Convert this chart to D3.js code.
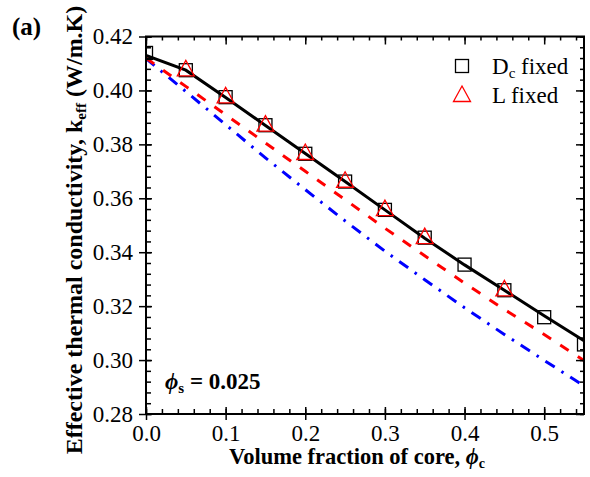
<!DOCTYPE html>
<html>
<head>
<title>Effective thermal conductivity</title>
<script src="https://cdn.jsdelivr.net/npm/d3@7"></script>
<style>
  body { margin: 0; background: #fff; }
  text { font-family: "Liberation Serif", "Times New Roman", serif; fill: #000; }
</style>
</head>
<body>
<div id="chart"></div>
<script>
// data
var phiC = [0, 0.05, 0.1, 0.15, 0.2, 0.25, 0.3, 0.35, 0.4, 0.45, 0.5, 0.55];
var modelBlack = [0.4130, 0.4075, 0.3974, 0.3870, 0.3766, 0.3662, 0.3557, 0.3452, 0.3353, 0.3259, 0.3164, 0.3072];
var modelRed = [0.4120, 0.4015, 0.3910, 0.3805, 0.3700, 0.3595, 0.3489, 0.3387, 0.3285, 0.3188, 0.3095, 0.2998];
var modelBlue = [0.4118, 0.3996, 0.3873, 0.3750, 0.3632, 0.3516, 0.3404, 0.3298, 0.3194, 0.3095, 0.2999, 0.2904];

var dcFixedX = [0, 0.05, 0.1, 0.15, 0.2, 0.25, 0.3, 0.35, 0.4, 0.45, 0.5, 0.55];
var dcFixedY = [0.4139, 0.4075, 0.3975, 0.3871, 0.3765, 0.3662, 0.3557, 0.3454, 0.3354, 0.3259, 0.3159, 0.3058];
var lFixedX = [0.05, 0.1, 0.15, 0.2, 0.25, 0.3, 0.35, 0.45];
var lFixedY = [0.4078, 0.3978, 0.3873, 0.3768, 0.3665, 0.3560, 0.3456, 0.3262];

var xTicks = [0, 0.1, 0.2, 0.3, 0.4, 0.5];
var yTicks = [0.28, 0.30, 0.32, 0.34, 0.36, 0.38, 0.40, 0.42];

(function() {
  var width = 590, height = 477;
  var pl = 146, pr = 584, pt = 36.5, pb = 414;

  var svg = d3.select("#chart").append("svg")
    .attr("width", width)
    .attr("height", height);

  var x = d3.scaleLinear().domain([0, 0.55]).range([pl, pr]);
  var y = d3.scaleLinear().domain([0.28, 0.42]).range([pb, pt]);

  svg.append("clipPath").attr("id", "plotclip")
    .append("rect")
    .attr("x", pl).attr("y", pt)
    .attr("width", pr - pl).attr("height", pb - pt);

  var plot = svg.append("g").attr("clip-path", "url(#plotclip)");

  var line = d3.line()
    .x(function(d) { return x(d[0]); })
    .y(function(d) { return y(d[1]); });

  function pairs(xs, ys) {
    return xs.map(function(v, i) { return [v, ys[i]]; });
  }

  // model curves
  plot.append("path")
    .datum(pairs(phiC, modelBlue))
    .attr("d", line)
    .attr("fill", "none")
    .attr("stroke", "#0000ff")
    .attr("stroke-width", 3)
    .attr("stroke-dasharray", "11,8,2.5,8");

  plot.append("path")
    .datum(pairs(phiC, modelRed))
    .attr("d", line)
    .attr("fill", "none")
    .attr("stroke", "#ff0000")
    .attr("stroke-width", 3)
    .attr("stroke-dasharray", "10,11");

  plot.append("path")
    .datum(pairs(phiC, modelBlack))
    .attr("d", line)
    .attr("fill", "none")
    .attr("stroke", "#000")
    .attr("stroke-width", 3);

  // markers
  var sq = 13;
  plot.selectAll("rect.dc")
    .data(pairs(dcFixedX, dcFixedY))
    .enter().append("rect")
    .attr("class", "dc")
    .attr("x", function(d) { return x(d[0]) - sq / 2; })
    .attr("y", function(d) { return y(d[1]) - sq / 2; })
    .attr("width", sq).attr("height", sq)
    .attr("fill", "none")
    .attr("stroke", "#000")
    .attr("stroke-width", 1.3);

  var tri = "M0,-9L8.5,6.5L-8.5,6.5Z";
  plot.selectAll("path.lf")
    .data(pairs(lFixedX, lFixedY))
    .enter().append("path")
    .attr("class", "lf")
    .attr("d", tri)
    .attr("transform", function(d) { return "translate(" + x(d[0]) + "," + y(d[1]) + ")"; })
    .attr("fill", "none")
    .attr("stroke", "#ff0000")
    .attr("stroke-width", 1.3);

  // axes
  var xMinor = d3.range(0, 0.5501, 0.02);
  var yMinor = d3.range(0.28, 0.42001, 0.004);

  var bx = svg.append("g").attr("transform", "translate(0," + pb + ")")
    .call(d3.axisBottom(x).tickValues(xTicks).tickSize(6).tickFormat(d3.format(".1f")));
  var tx = svg.append("g").attr("transform", "translate(0," + pt + ")")
    .call(d3.axisTop(x).tickValues(xTicks).tickSize(-8).tickFormat(""));
  var ly = svg.append("g").attr("transform", "translate(" + pl + ",0)")
    .call(d3.axisLeft(y).tickValues(yTicks).tickSize(7).tickFormat(d3.format(".2f")));
  var ry = svg.append("g").attr("transform", "translate(" + pr + ",0)")
    .call(d3.axisRight(y).tickValues(yTicks).tickSize(-8).tickFormat(""));

  var mbx = svg.append("g").attr("transform", "translate(0," + pb + ")")
    .call(d3.axisBottom(x).tickValues(xMinor).tickSize(-5).tickFormat(""));
  var mtx = svg.append("g").attr("transform", "translate(0," + pt + ")")
    .call(d3.axisTop(x).tickValues(xMinor).tickSize(-4).tickFormat(""));
  var mly = svg.append("g").attr("transform", "translate(" + pl + ",0)")
    .call(d3.axisLeft(y).tickValues(yMinor).tickSize(-5).tickFormat(""));
  var mry = svg.append("g").attr("transform", "translate(" + pr + ",0)")
    .call(d3.axisRight(y).tickValues(yMinor).tickSize(-4).tickFormat(""));

  // majors on left/bottom also reach inside
  var ibx = svg.append("g").attr("transform", "translate(0," + pb + ")")
    .call(d3.axisBottom(x).tickValues(xTicks).tickSize(-7).tickFormat(""));
  var ily = svg.append("g").attr("transform", "translate(" + pl + ",0)")
    .call(d3.axisLeft(y).tickValues(yTicks).tickSize(-6).tickFormat(""));

  [bx, tx, ly, ry, mbx, mtx, mly, mry, ibx, ily].forEach(function(g) {
    g.select(".domain").remove();
    g.selectAll(".tick line").attr("stroke", "#000").attr("stroke-width", 1.5);
  });

  bx.selectAll(".tick text")
    .attr("y", 11)
    .style("font-family", "Liberation Serif")
    .style("font-size", "23px");
  ly.selectAll(".tick text")
    .attr("x", -13)
    .style("font-family", "Liberation Serif")
    .style("font-size", "23px");

  // frame
  svg.append("rect")
    .attr("x", pl).attr("y", pt)
    .attr("width", pr - pl).attr("height", pb - pt)
    .attr("fill", "none")
    .attr("stroke", "#000")
    .attr("stroke-width", 2);

  // axis titles
  var xt = svg.append("text")
    .attr("x", (pl + pr) / 2 - 8)
    .attr("y", 464)
    .attr("text-anchor", "middle")
    .style("font-size", "22.5px")
    .style("font-weight", "bold");
  xt.append("tspan").text("Volume fraction of core, ");
  xt.append("tspan").text("ϕ").style("font-style", "italic");
  xt.append("tspan").text("c").attr("dy", 4).style("font-size", "14px");

  var yt = svg.append("text")
    .attr("transform", "translate(82," + 230 + ") rotate(-90)")
    .attr("text-anchor", "middle")
    .style("font-size", "24px")
    .style("font-weight", "bold");
  yt.append("tspan").text("Effective thermal conductivity, k");
  yt.append("tspan").text("eff").attr("dy", 4).style("font-size", "15px");
  yt.append("tspan").text(" (W/m.K)").attr("dy", -4);

  // panel label
  svg.append("text")
    .attr("x", 12).attr("y", 35)
    .style("font-size", "25px")
    .style("font-weight", "bold")
    .text("(a)");

  // annotation
  var ann = svg.append("text")
    .attr("x", 165).attr("y", 389)
    .style("font-size", "23px")
    .style("font-weight", "bold");
  ann.append("tspan").text("ϕ").style("font-style", "italic");
  ann.append("tspan").text("s").attr("dy", 4).style("font-size", "15px");
  ann.append("tspan").text(" = 0.025").attr("dy", -4);

  // legend
  var legend = svg.append("g");
  legend.append("rect")
    .attr("x", 462 - sq / 2).attr("y", 66 - sq / 2)
    .attr("width", sq).attr("height", sq)
    .attr("fill", "none").attr("stroke", "#000").attr("stroke-width", 1.3);
  legend.append("path")
    .attr("d", tri)
    .attr("transform", "translate(462,95)")
    .attr("fill", "none").attr("stroke", "#ff0000").attr("stroke-width", 1.3);

  var l1 = legend.append("text").attr("x", 492).attr("y", 74).style("font-size", "23px");
  l1.append("tspan").text("D");
  l1.append("tspan").text("c").attr("dy", 4).style("font-size", "15px");
  l1.append("tspan").text(" fixed").attr("dy", -4);
  legend.append("text").attr("x", 492).attr("y", 103).style("font-size", "23px").text("L fixed");
})();
</script>
</body>
</html>
